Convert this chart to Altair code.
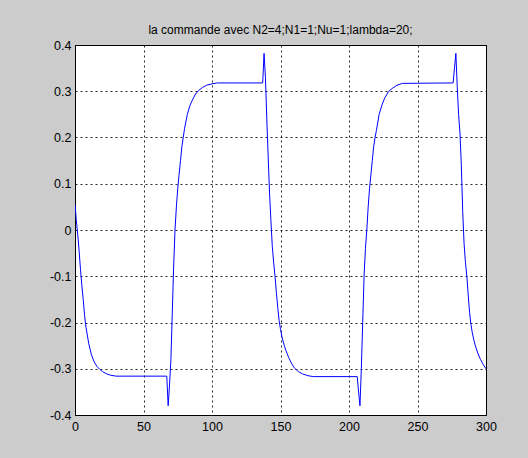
import altair as alt
import pandas as pd

title_text = "la commande avec N2=4;N1=1;Nu=1;lambda=20;"

t = [0, 1, 2, 3, 4, 5, 6, 7, 8, 10, 12, 14, 16, 18, 20, 23, 26, 30, 67,
     68, 69, 70, 71, 72, 73, 74, 75, 76, 77, 78, 79, 80, 82, 84, 86, 88, 90, 93, 96, 100, 104, 137,
     138, 139, 140, 141, 142, 143, 144, 145, 146, 147, 148, 149, 150, 151, 152, 153, 154, 156, 158, 160, 163, 166, 170, 174, 206,
     207, 208, 209, 210, 211, 212, 213, 214, 215, 216, 217, 218, 219, 220, 222, 224, 226, 229, 232, 235, 239, 276,
     277, 278, 279, 280, 281, 282, 283, 284, 285, 286, 287, 288, 289, 290, 291, 292, 294, 296, 298, 300]

u = [0.055, 0.02, -0.01, -0.045, -0.085, -0.12, -0.15, -0.185, -0.21, -0.245, -0.27, -0.285, -0.295, -0.301, -0.306, -0.311, -0.314, -0.316, -0.316,
     -0.38, -0.335, -0.28, -0.18, -0.08, 0.0, 0.05, 0.09, 0.12, 0.15, 0.18, 0.2, 0.22, 0.25, 0.27, 0.283, 0.294, 0.301, 0.308, 0.313, 0.316, 0.318, 0.318,
     0.382, 0.33, 0.24, 0.16, 0.08, 0.02, -0.035, -0.07, -0.1, -0.135, -0.168, -0.196, -0.215, -0.23, -0.242, -0.252, -0.261, -0.276, -0.288, -0.298, -0.306, -0.311, -0.315, -0.317, -0.317,
     -0.35, -0.38, -0.3, -0.2, -0.1, -0.04, 0.0, 0.05, 0.09, 0.12, 0.15, 0.18, 0.2, 0.215, 0.25, 0.27, 0.285, 0.3, 0.307, 0.313, 0.317, 0.318,
     0.35, 0.382, 0.31, 0.25, 0.21, 0.14, 0.04, -0.03, -0.07, -0.1, -0.14, -0.178, -0.204, -0.222, -0.236, -0.248, -0.266, -0.28, -0.291, -0.3]

x_ticks = [0, 50, 100, 150, 200, 250, 300]
y_ticks = [-0.4, -0.3, -0.2, -0.1, 0, 0.1, 0.2, 0.3, 0.4]

df = pd.DataFrame({"t": t, "u": u})

FONT = "Liberation Sans"

chart = alt.Chart(df).mark_line(color="#0000ff", strokeWidth=1, clip=True).encode(
    x=alt.X("t:Q", scale=alt.Scale(domain=[0, 300], nice=False, zero=False),
            axis=alt.Axis(values=x_ticks, title=None, format="d", grid=True,
                          gridColor="#000000", gridDash=[2, 3], gridOpacity=0.85,
                          ticks=False, domain=False, labelPadding=5,
                          labelFont=FONT, labelFontSize=12.5, labelColor="#000000",
                          labelFlush=False)),
    y=alt.Y("u:Q", scale=alt.Scale(domain=[-0.4, 0.4], nice=False, zero=False),
            axis=alt.Axis(values=y_ticks, title=None, grid=True,
                          labelExpr="replace(format(datum.value, '.1~f'), '\u2212', '-')",
                          gridColor="#000000", gridDash=[2, 3], gridOpacity=0.85,
                          ticks=False, domain=False, labelPadding=4,
                          labelFont=FONT, labelFontSize=12.5, labelColor="#000000",
                          labelFlush=False)),
).properties(
    width=411,
    height=370,
    padding={"left": 75, "top": 45, "right": 42, "bottom": 43},
    autosize=alt.AutoSizeParams(type="none"),
    title=alt.Title(title_text, font=FONT, fontSize=12, fontWeight="normal",
                    color="#000000", anchor="middle", baseline="alphabetic",
                    offset=11, dy=18),
).configure(
    background="#cccccc",
).configure_view(
    fill="#ffffff", stroke="#000000", strokeWidth=1,
)

chart.save("out.html", embed_options={"renderer": "svg", "actions": False})
